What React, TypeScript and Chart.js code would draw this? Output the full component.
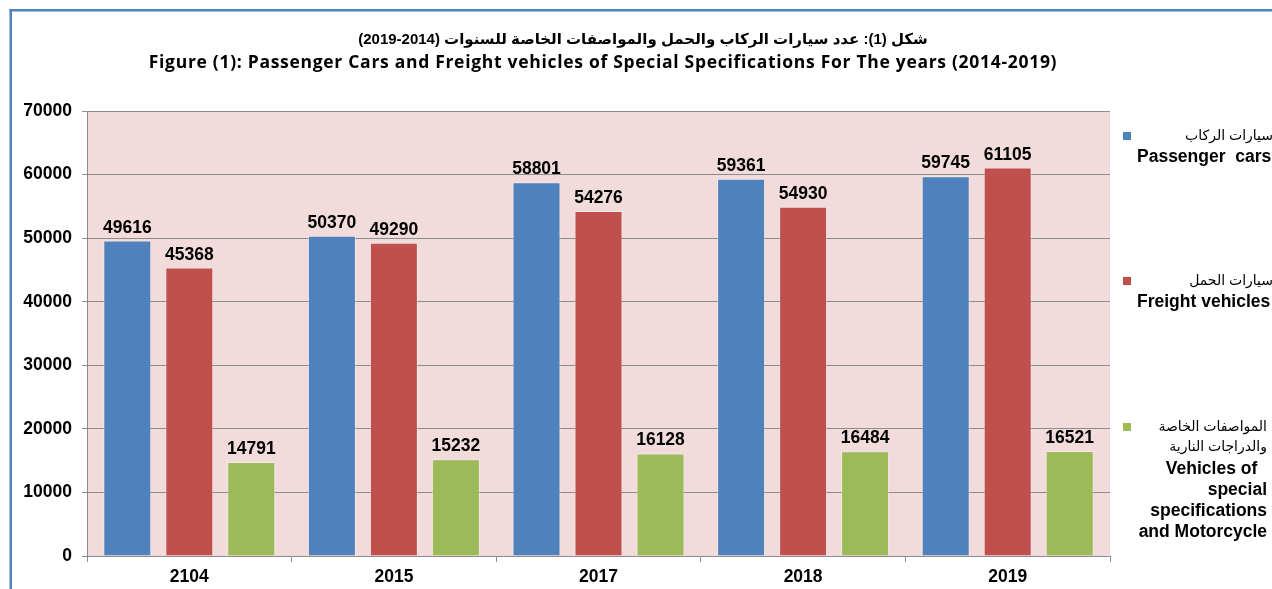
import React, { useEffect, useRef } from "react";
import { Chart, registerables } from "chart.js";

Chart.register(...registerables);

const categories = ["2104", "2015", "2017", "2018", "2019"];
const passengerCars = [49616, 50370, 58801, 59361, 59745];
const freightVehicles = [45368, 49290, 54276, 54930, 61105];
const specialVehicles = [14791, 15232, 16128, 16484, 16521];

const titleArabic = "شكل (1): عدد سيارات الركاب والحمل والمواصفات الخاصة للسنوات (2014-2019)";
const titleEnglish = "Figure (1): Passenger Cars and Freight vehicles of Special Specifications For The years (2014-2019)";

const legendArabic = [["سيارات الركاب"], ["سيارات الحمل"], ["المواصفات الخاصة", "والدراجات النارية"]];
const legendEnglish = [["Passenger  cars"], ["Freight vehicles"], ["Vehicles of  ", "special", "specifications", "and Motorcycle"]];

const colors = ["#4f81bd", "#c0504d", "#9bbb59"];
const FONT = "'Liberation Sans', Arial, 'DejaVu Sans', sans-serif";
const TITLE_FONT = "'Open Sans', 'Liberation Sans', sans-serif";

const customPlugin = {
  id: "custom",
  beforeDraw(chart: any) {
    const { ctx, chartArea } = chart;
    ctx.save();
    ctx.fillStyle = "#ffffff";
    ctx.fillRect(0, 0, chart.width, chart.height);
    ctx.fillStyle = "#4f81bd";
    ctx.fillRect(9.5, 9, chart.width - 9.5, 2.5);
    ctx.fillRect(9.5, 9, 2.5, chart.height - 9);
    ctx.fillStyle = "#f2dcdb";
    ctx.fillRect(chartArea.left, chartArea.top, chartArea.right - chartArea.left, chartArea.bottom - chartArea.top);
    ctx.restore();
  },
  afterDatasetsDraw(chart: any) {
    const { ctx } = chart;
    ctx.save();
    ctx.font = `bold 17.5px ${FONT}`;
    ctx.fillStyle = "#000";
    ctx.textAlign = "center";
    ctx.textBaseline = "alphabetic";
    chart.data.datasets.forEach((ds: any, i: number) => {
      const meta = chart.getDatasetMeta(i);
      meta.data.forEach((bar: any, j: number) => {
        ctx.fillText(String(ds.data[j]), bar.x, bar.y - 8);
      });
    });
    // titles
    ctx.textBaseline = "middle";
    ctx.font = `bold 15px ${FONT}`;
    ctx.direction = "rtl";
    ctx.textAlign = "center";
    ctx.fillText(titleArabic, 643, 40);
    ctx.direction = "ltr";
    ctx.font = `bold 17.5px ${TITLE_FONT}`;
    (ctx as any).letterSpacing = "0.7px";
    ctx.fillText(titleEnglish, 603, 63);
    (ctx as any).letterSpacing = "0px";
    // legend
    const squareY = [132, 277, 423];
    legendArabic.forEach((lines, i) => {
      ctx.fillStyle = colors[i];
      ctx.fillRect(1123, squareY[i], 8, 8);
      ctx.fillStyle = "#000";
      const right = i < 2 ? 1273 : 1267;
      let y = squareY[i] + 4;
      ctx.font = `14px ${FONT}`;
      lines.forEach((l) => {
        ctx.direction = "rtl";
        ctx.textAlign = "right";
        ctx.fillText(l, right, y);
        y += 20;
      });
      ctx.direction = "ltr";
      ctx.font = `bold 17.5px ${FONT}`;
      y = i < 2 ? squareY[i] + 25 : squareY[i] + 46;
      legendEnglish[i].forEach((l) => {
        if (i < 2) {
          ctx.textAlign = "left";
          ctx.fillText(l, 1137, y);
        } else {
          ctx.textAlign = "right";
          ctx.fillText(l, right, y);
        }
        y += 21;
      });
    });
    ctx.restore();
  },
};

export default function App() {
  const ref = useRef<HTMLCanvasElement>(null);
  useEffect(() => {
    const chart = new Chart(ref.current!, {
      type: "bar",
      data: {
        labels: categories,
        datasets: [
          { label: "Passenger cars", data: passengerCars, backgroundColor: colors[0], borderColor: "rgba(255,255,255,0.35)", borderWidth: 1 },
          { label: "Freight vehicles", data: freightVehicles, backgroundColor: colors[1], borderColor: "rgba(255,255,255,0.35)", borderWidth: 1 },
          { label: "Vehicles of special specifications and Motorcycle", data: specialVehicles, backgroundColor: colors[2], borderColor: "rgba(255,255,255,0.35)", borderWidth: 1 },
        ],
      },
      options: {
        responsive: false,
        animation: false,
        layout: { padding: { top: 111, right: 162, left: 0, bottom: 0 } },
        datasets: { bar: { categoryPercentage: 0.909, barPercentage: 0.774 } },
        plugins: { legend: { display: false }, title: { display: false }, tooltip: { enabled: false } },
        scales: {
          x: {
            grid: { display: true, drawOnChartArea: false, offset: true, tickLength: 6, color: "#8c8c8c" },
            border: { color: "#8c8c8c" },
            ticks: { color: "#000", font: { family: FONT, size: 17.5, weight: "bold" }, padding: 5 },
            afterFit: (s: any) => { s.height = 33; },
          },
          y: {
            min: 0,
            max: 70000,
            grid: { color: "#8c8c8c", tickLength: 5 },
            border: { color: "#8c8c8c" },
            ticks: {
              stepSize: 10000,
              color: "#000",
              font: { family: FONT, size: 17.5, weight: "bold" },
              padding: 10,
              callback: (v: any) => String(v),
            },
            afterFit: (s: any) => { s.width = 87; },
          },
        },
      },
      plugins: [customPlugin],
    } as any);
    return () => chart.destroy();
  }, []);
  return (
    <div style={{ position: "absolute", left: 0, top: 0, width: 1272, height: 589 }}>
      <canvas ref={ref} width={1272} height={589} style={{ display: "block" }} />
    </div>
  );
}
